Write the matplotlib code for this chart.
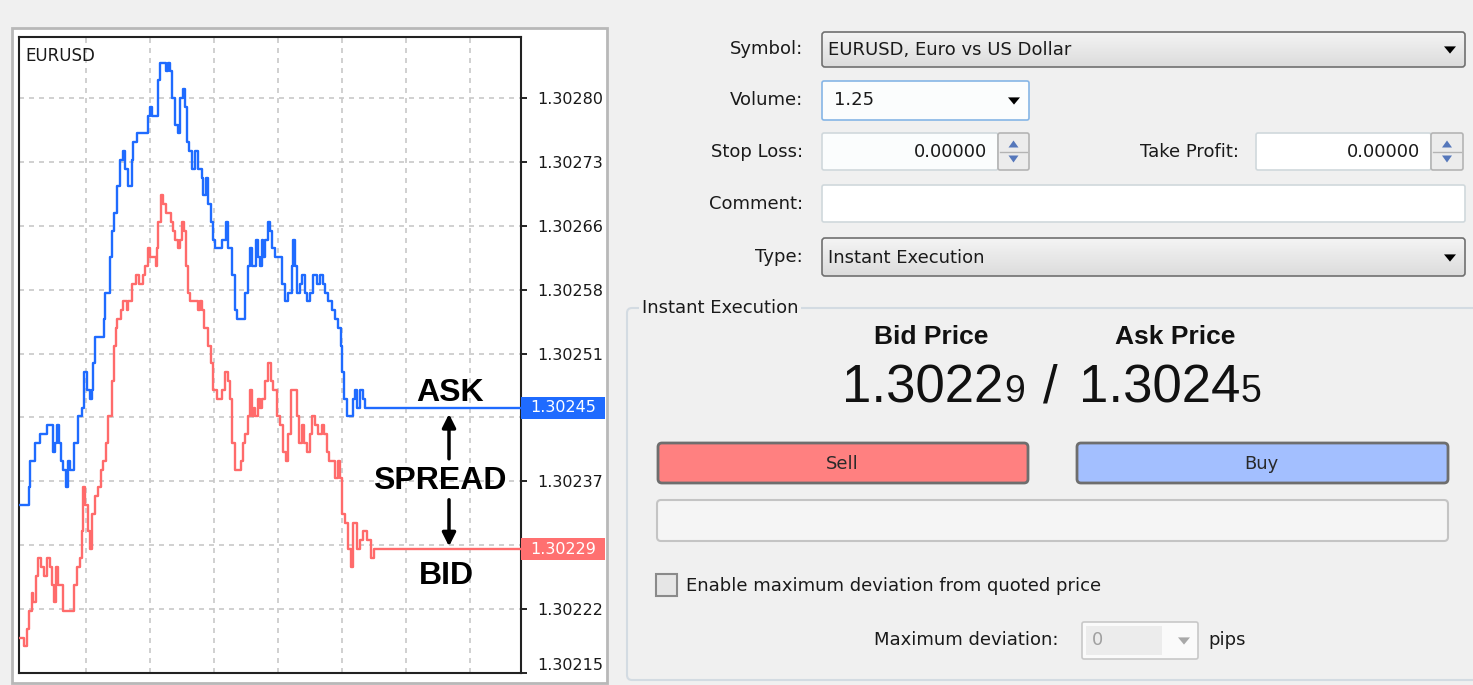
import matplotlib.pyplot as plt
from matplotlib.patches import FancyBboxPatch, Rectangle, Polygon
from matplotlib.colors import LinearSegmentedColormap
from matplotlib.ticker import FormatStrFormatter
import numpy as np

# tick chart, price given in points above 1.30000
ask_ticks = [0, 9, 10, 11, 16, 21, 28, 31, 34, 36, 38, 40, 42, 44, 47, 49, 51, 55, 59, 63,
             65, 68, 71, 73, 74, 76, 84, 85, 86, 91, 93, 95, 98, 101, 104, 106, 109, 113, 114, 118,
             128, 129, 131, 133, 138, 139, 141, 144, 147, 149, 151, 153, 156, 159, 161, 164, 166, 168, 170, 173,
             176, 179, 183, 184, 187, 189, 192, 194, 196, 201, 203, 207, 209, 213, 216, 218, 223, 226, 229, 231,
             233, 237, 239, 241, 243, 244, 246, 249, 251, 253, 256, 259, 263, 266, 269, 273, 274, 276, 278, 281,
             283, 286, 288, 291, 294, 298, 301, 304, 306, 309, 313, 316, 319, 322, 323, 325, 328, 333, 334, 336,
             338, 341, 344, 346, 502]
ask_points = [234, 234, 236, 239, 241, 242, 243, 243, 240, 241, 243, 241, 239, 238, 236, 239, 238, 241, 244, 245,
              249, 247, 246, 247, 250, 253, 253, 255, 258, 262, 265, 267, 270, 273, 274, 272, 270, 273, 275, 276,
              276, 278, 279, 278, 278, 282, 284, 284, 283, 284, 283, 280, 277, 276, 280, 281, 279, 275, 274, 272,
              274, 272, 271, 269, 271, 268, 266, 264, 263, 263, 264, 266, 263, 260, 256, 255, 255, 258, 261, 263,
              261, 264, 262, 261, 264, 262, 264, 266, 265, 263, 262, 262, 259, 257, 258, 261, 264, 261, 258, 259,
              260, 258, 257, 258, 260, 259, 260, 259, 258, 257, 256, 255, 254, 252, 249, 246, 244, 244, 246, 247,
              245, 247, 246, 245, 245]

bid_ticks = [1, 5, 8, 10, 13, 14, 17, 19, 22, 25, 28, 31, 33, 35, 37, 39, 42, 44, 48, 53,
             55, 58, 61, 63, 64, 66, 69, 71, 73, 76, 79, 82, 84, 87, 89, 93, 95, 97, 98, 102,
             104, 108, 109, 113, 117, 120, 124, 126, 129, 131, 134, 137, 138, 139, 142, 144, 147, 149, 152, 154,
             156, 159, 161, 163, 165, 167, 169, 171, 176, 179, 181, 183, 185, 188, 189, 192, 194, 198, 200, 203,
             206, 209, 211, 213, 216, 219, 222, 224, 226, 229, 231, 233, 235, 236, 239, 241, 243, 246, 249, 252,
             254, 258, 261, 264, 267, 269, 272, 276, 278, 280, 283, 285, 288, 291, 293, 296, 299, 303, 305, 308,
             310, 313, 316, 319, 321, 323, 326, 329, 332, 334, 338, 341, 344, 348, 352, 355, 359, 502]
bid_points = [219, 218, 220, 222, 224, 223, 226, 228, 227, 226, 228, 227, 225, 223, 227, 225, 225, 222, 222, 222,
              225, 227, 228, 231, 236, 234, 231, 229, 233, 235, 236, 238, 239, 241, 244, 248, 252, 254, 255, 256,
              257, 256, 257, 259, 260, 259, 260, 261, 263, 262, 262, 261, 263, 266, 269, 268, 267, 267, 266, 265,
              264, 263, 264, 266, 265, 261, 258, 257, 257, 256, 257, 256, 254, 254, 252, 250, 247, 246, 246, 247,
              249, 248, 246, 241, 238, 238, 239, 241, 242, 244, 247, 244, 245, 244, 246, 245, 246, 248, 250, 248,
              247, 244, 243, 240, 239, 242, 247, 247, 244, 241, 243, 241, 240, 242, 244, 243, 242, 243, 242, 240,
              239, 239, 237, 239, 237, 233, 232, 229, 227, 232, 229, 230, 231, 230, 228, 229, 229, 229]

ask = 1.3 + np.array(ask_points) / 1e5
bid = 1.3 + np.array(bid_points) / 1e5
price_ticks = np.linspace(1.30215, 1.30280, 10)
bid_price = "1.30229"
ask_price = "1.30245"

BLUE = "#1f6bff"
RED = "#ff6b6b"
UI = "DejaVu Sans"
W, H = 1473, 685

fig = plt.figure(figsize=(W / 100, H / 100), dpi=100)
fig.patch.set_facecolor("#f0f0f0")

# pixel canvas for the panel and the order dialog
bg = fig.add_axes([0, 0, 1, 1], zorder=0)
bg.set_xlim(0, W)
bg.set_ylim(H, 0)
bg.axis("off")

grad = LinearSegmentedColormap.from_list("g", ["#f4f4f4", "#dcdcdc"])


def rbox(x0, y0, x1, y1, fc, ec, lw=1.2, r=3, z=2):
    p = FancyBboxPatch((x0, y0), x1 - x0, y1 - y0, boxstyle=f"round,pad=0,rounding_size={r}",
                       fc=fc, ec=ec, lw=lw, zorder=z)
    bg.add_patch(p)
    return p


def combo(x0, y0, x1, y1):
    p = rbox(x0, y0, x1, y1, "none", "#707070", z=3)
    im = bg.imshow(np.linspace(0, 1, 40).reshape(-1, 1), extent=(x0, x1, y1, y0),
                   cmap=grad, aspect="auto", zorder=2)
    im.set_clip_path(p)


def tri(x, y, col="black", s=6):
    bg.add_patch(Polygon([(x - s, y - s * 0.6), (x + s, y - s * 0.6), (x, y + s * 0.6)],
                         closed=True, fc=col, ec="none", zorder=4))


def spinner(x0, y0, x1, y1):
    rbox(x0, y0, x1, y1, "#ececec", "#b4b4b4", r=2, z=3)
    ym = (y0 + y1) / 2
    bg.plot([x0 + 2, x1 - 2], [ym, ym], color="#b4b4b4", lw=1, zorder=4)
    xc = (x0 + x1) / 2
    bg.add_patch(Polygon([(xc - 5, ym - 4), (xc + 5, ym - 4), (xc, ym - 11)], fc="#5577bb", ec="none", zorder=5))
    bg.add_patch(Polygon([(xc - 5, ym + 4), (xc + 5, ym + 4), (xc, ym + 11)], fc="#5577bb", ec="none", zorder=5))


# chart panel frame
bg.add_patch(Rectangle((12, 28), 595, 655, fc="white", ec="#b8b8b8", lw=2, zorder=1))

# dialog labels
for txt, x, y in [("Symbol:", 803, 49), ("Volume:", 803, 100), ("Stop Loss:", 803, 152),
                  ("Comment:", 803, 204), ("Type:", 803, 257), ("Take Profit:", 1239, 152)]:
    bg.text(x, y, txt, ha="right", va="center", fontsize=13, family=UI, color="#1a1a1a")

combo(822, 32, 1465, 67)
bg.text(828, 50, "EURUSD, Euro vs US Dollar", ha="left", va="center", fontsize=13, family=UI, color="#1a1a1a", zorder=5)
tri(1450, 50)

rbox(822, 81, 1029, 120, "#fbfdfd", "#86b6e6", r=2, z=3)
bg.text(834, 100, "1.25", ha="left", va="center", fontsize=13, family=UI, color="#1a1a1a", zorder=5)
tri(1014, 101)

rbox(822, 133, 998, 170, "#fbfdfd", "#d0d8dc", r=2, z=3)
spinner(998, 133, 1029, 170)
bg.text(987, 152, "0.00000", ha="right", va="center", fontsize=13, family=UI, color="#1a1a1a", zorder=5)
rbox(1256, 133, 1431, 170, "white", "#d0d8dc", r=2, z=3)
spinner(1431, 133, 1463, 170)
bg.text(1420, 152, "0.00000", ha="right", va="center", fontsize=13, family=UI, color="#1a1a1a", zorder=5)

rbox(822, 185, 1465, 222, "white", "#d0d8dc", r=2, z=3)

combo(822, 238, 1465, 276)
bg.text(828, 258, "Instant Execution", ha="left", va="center", fontsize=13, family=UI, color="#1a1a1a", zorder=5)
tri(1450, 258)

# execution group
rbox(627, 308, 1490, 680, "none", "#d3dbe2", lw=1.5, r=5, z=2)
bg.text(642, 308, "Instant Execution", ha="left", va="center", fontsize=13, family=UI, color="#1a1a1a",
        zorder=5, bbox=dict(fc="#f0f0f0", ec="none", pad=2))
bg.text(931, 337, "Bid Price", ha="center", va="center", fontsize=19, family="Liberation Sans",
        weight="bold", color="#111111")
bg.text(1175, 337, "Ask Price", ha="center", va="center", fontsize=19, family="Liberation Sans",
        weight="bold", color="#111111")
bg.text(1003, 402, bid_price[:-1], ha="right", va="baseline", fontsize=38, family="Liberation Sans", color="#111111")
bg.text(1004, 402, bid_price[-1], ha="left", va="baseline", fontsize=27, family="Liberation Sans", color="#111111")
bg.text(1050, 402, "/", ha="center", va="baseline", fontsize=38, family="Liberation Sans", color="#111111")
bg.text(1240, 402, ask_price[:-1], ha="right", va="baseline", fontsize=38, family="Liberation Sans", color="#111111")
bg.text(1241, 402, ask_price[-1], ha="left", va="baseline", fontsize=27, family="Liberation Sans", color="#111111")

rbox(658, 443, 1028, 483, "#ff8080", "#6e6e6e", lw=2, r=4, z=3)
bg.text(842, 464, "Sell", ha="center", va="center", fontsize=13, family=UI, color="#2a2a2a", zorder=5)
rbox(1077, 443, 1448, 483, "#a3bfff", "#6e6e6e", lw=2, r=4, z=3)
bg.text(1261, 464, "Buy", ha="center", va="center", fontsize=13, family=UI, color="#2a2a2a", zorder=5)
rbox(657, 500, 1448, 541, "#f5f5f5", "#c4c4c4", lw=1.5, r=4, z=3)

bg.add_patch(Rectangle((656, 574), 21, 22, fc="#e6e6e6", ec="#8a8a8a", lw=1.5, zorder=3))
bg.text(686, 586, "Enable maximum deviation from quoted price", ha="left", va="center", fontsize=13,
        family=UI, color="#1a1a1a")
bg.text(1059, 640, "Maximum deviation:", ha="right", va="center", fontsize=13, family=UI, color="#1a1a1a")
rbox(1082, 622, 1198, 659, "#fafafa", "#c8c8c8", r=2, z=3)
bg.add_patch(Rectangle((1086, 626), 76, 29, fc="#ececec", ec="none", zorder=4))
bg.text(1092, 640, "0", ha="left", va="center", fontsize=13, family=UI, color="#a0a0a0", zorder=5)
tri(1184, 641, col="#a8a8a8")
bg.text(1208, 640, "pips", ha="left", va="center", fontsize=13, family=UI, color="#1a1a1a")

# price chart
ax = fig.add_axes([19 / W, 1 - 673 / H, (521 - 19) / W, (673 - 37) / H], zorder=1)
ax.set_facecolor("white")
ax.plot(ask_ticks, ask, color=BLUE, lw=1.7, drawstyle="steps-post", zorder=3)
ax.plot(bid_ticks, bid, color=RED, lw=1.7, drawstyle="steps-post", zorder=3)
ax.set_xlim(0, 502)
ax.set_ylim(1.30215, 1.302869)
ax.set_xticks(np.arange(67, 502, 64))
ax.tick_params(axis="x", length=0, labelbottom=False)
ax.yaxis.tick_right()
ax.set_yticks(price_ticks)
ax.yaxis.set_major_formatter(FormatStrFormatter("%.5f"))
ax.tick_params(axis="y", direction="out", length=4, width=1.2, pad=8, labelsize=11.5, labelcolor="#1a1a1a")
yt = ax.yaxis.get_major_ticks()
yt[0].label2.set_va("bottom")
# these two scale labels sit under the current price boxes
yt[2].label2.set_visible(False)
yt[4].label2.set_visible(False)
ax.grid(True, color="#c8c8c8", linestyle=(0, (3, 3)), lw=1.2)
for sp in ax.spines.values():
    sp.set_linewidth(1.5)
    sp.set_color("#222222")
ax.text(0.012, 0.985, "EURUSD", transform=ax.transAxes, ha="left", va="top", fontsize=12, family=UI, color="#1a1a1a")

# current price labels on the right scale
lo, hi = ax.get_ylim()
box_h = 22 / 636 * (hi - lo)
for val, col in [(ask[-1], BLUE), (bid[-1], "#ff7070")]:
    ax.add_patch(Rectangle((1.0, val - box_h / 2), 84 / 502, box_h, transform=ax.get_yaxis_transform(),
                           fc=col, ec="none", clip_on=False, zorder=10))
    ax.text(1.0 + 42 / 502, val, f"{val:.5f}", transform=ax.get_yaxis_transform(), ha="center", va="center",
            fontsize=11.5, family=UI, color="white", clip_on=False, zorder=11)

# spread annotation
ax.annotate("", xy=(430, ask[-1] - 0.000004), xytext=(430, 1.302389),
            arrowprops=dict(arrowstyle="-|>", color="black", lw=2.5, mutation_scale=20))
ax.annotate("", xy=(430, bid[-1]), xytext=(430, 1.302349),
            arrowprops=dict(arrowstyle="-|>", color="black", lw=2.5, mutation_scale=20))
ax.text(431, 1.302467, "ASK", ha="center", va="center", fontsize=23, family="Liberation Sans", weight="bold")
ax.text(421, 1.302367, "SPREAD", ha="center", va="center", fontsize=23, family="Liberation Sans", weight="bold")
ax.text(427, 1.302260, "BID", ha="center", va="center", fontsize=23, family="Liberation Sans", weight="bold")

fig.savefig("out.png", dpi=100, facecolor=fig.get_facecolor())
